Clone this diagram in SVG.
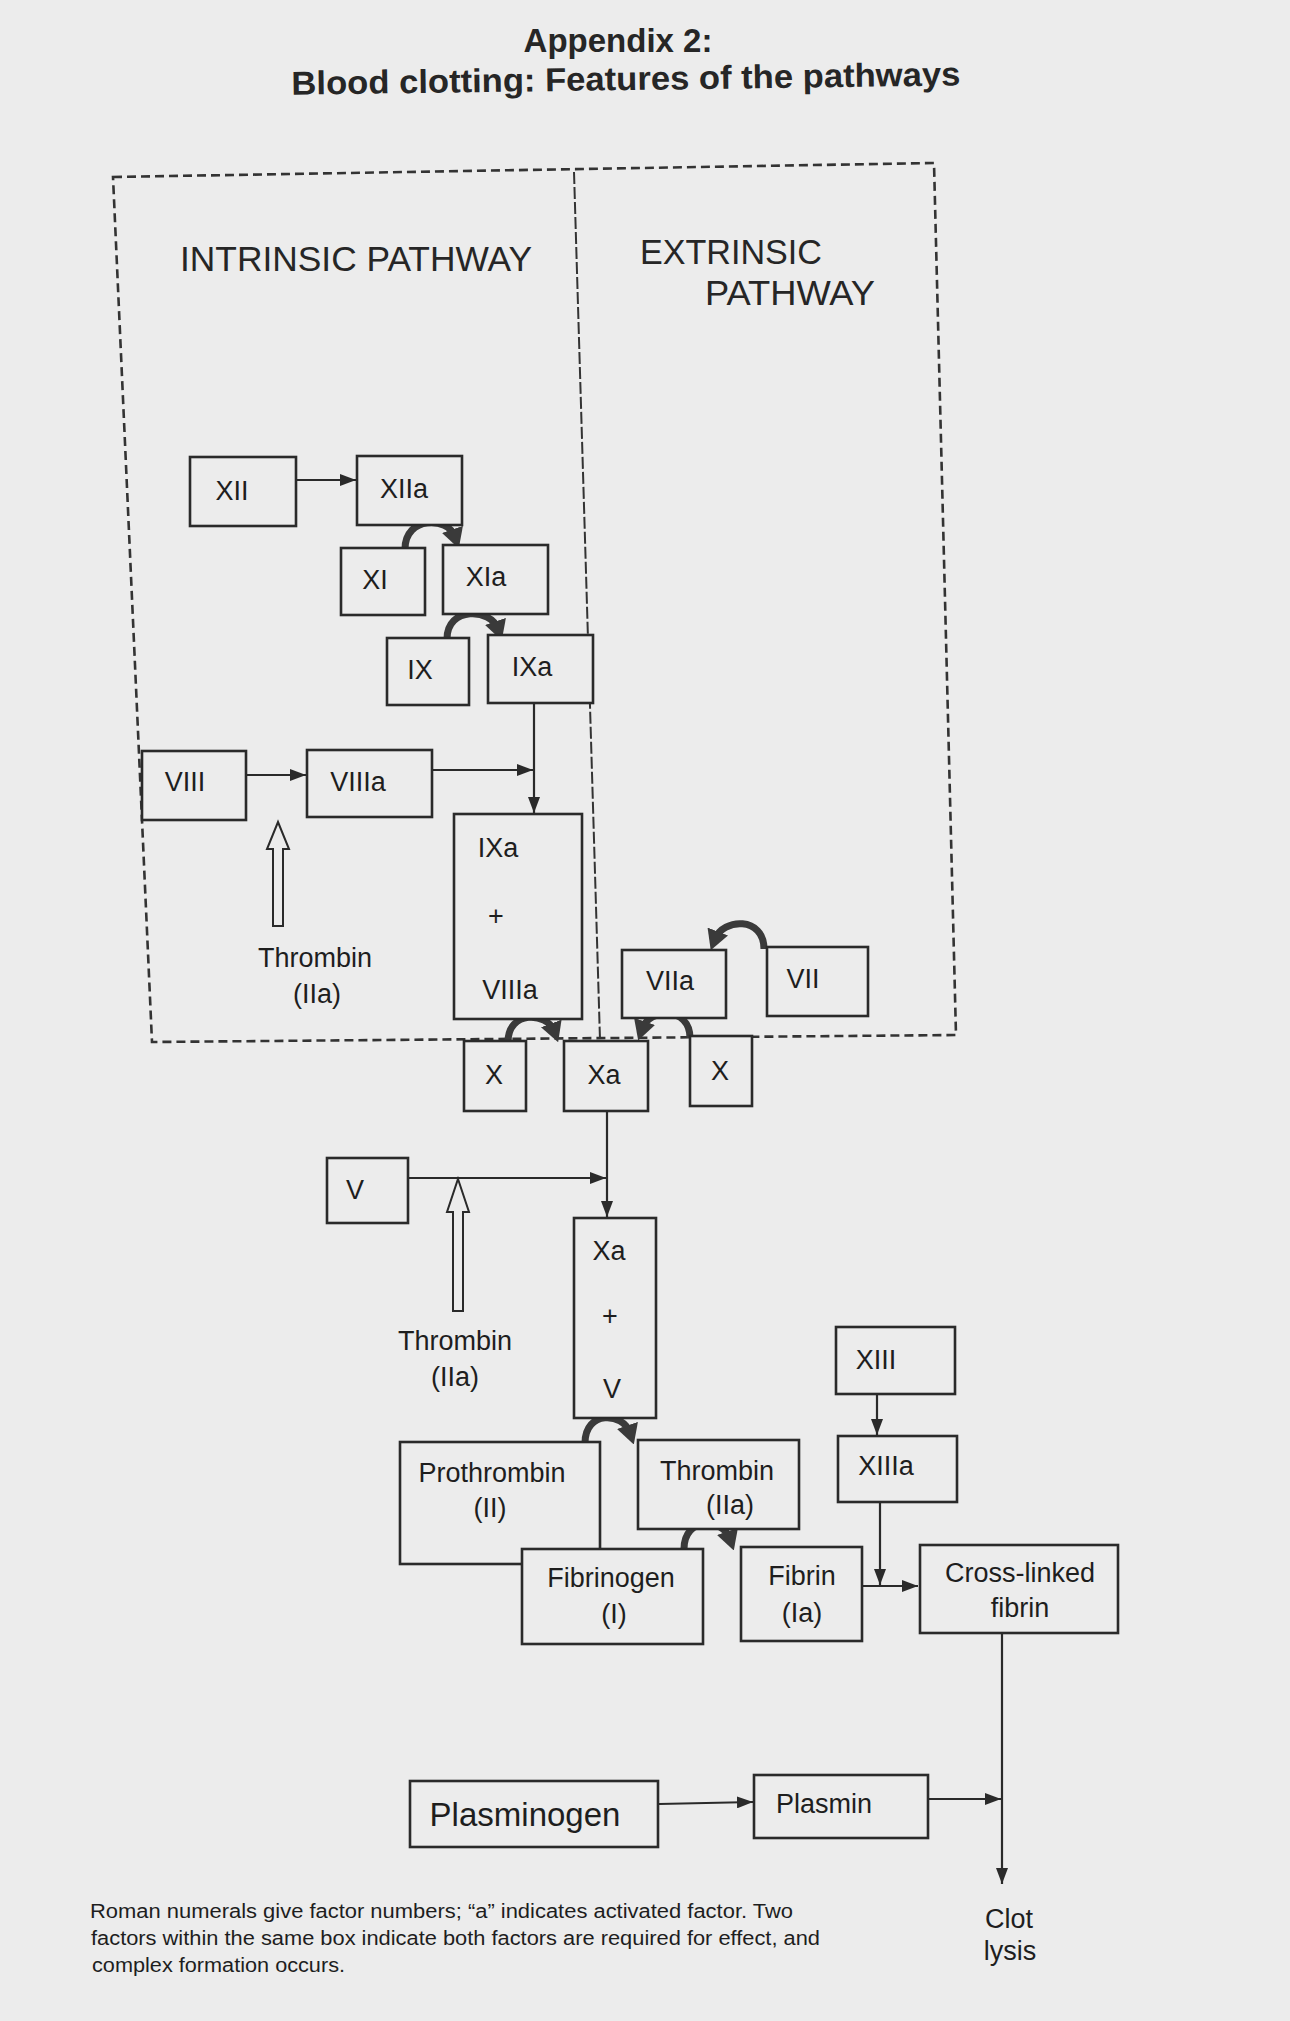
<svg xmlns="http://www.w3.org/2000/svg" width="1290" height="2021" viewBox="0 0 1290 2021">
<defs>
<style>
.bg{fill:#ececec}
.box{fill:#ececec;stroke:#2a2a2a;stroke-width:2.6}
.t{font-family:"Liberation Sans",Arial,sans-serif;font-size:27px;fill:#1e1e1e;text-anchor:middle}
.h{font-family:"Liberation Sans",Arial,sans-serif;font-size:35px;fill:#262626}
.ttl{font-family:"Liberation Sans",Arial,sans-serif;font-size:33px;font-weight:bold;fill:#262626;text-anchor:middle}
.fn{font-family:"Liberation Sans",Arial,sans-serif;font-size:20px;fill:#1e1e1e}
.ln{fill:none;stroke:#2a2a2a;stroke-width:2.2}
.cv{fill:none;stroke:#3a3a3a;stroke-width:7}
.hol{fill:#ececec;stroke:#2a2a2a;stroke-width:2}
.dash{fill:none;stroke:#333;stroke-width:2.6;stroke-dasharray:9 5}
.div{fill:none;stroke:#333;stroke-width:2;stroke-dasharray:12 3}
</style>
<marker id="ah" viewBox="0 0 16 12" refX="16" refY="6" markerWidth="16" markerHeight="12" markerUnits="userSpaceOnUse" orient="auto">
<path d="M0,0 L16,6 L0,12 z" fill="#2a2a2a"/>
</marker>
<marker id="ch" viewBox="0 0 20 22" refX="8" refY="11" markerWidth="20" markerHeight="22" markerUnits="userSpaceOnUse" orient="auto">
<path d="M0,0 L20,11 L0,22 z" fill="#3a3a3a"/>
</marker>
</defs>
<rect class="bg" x="0" y="0" width="1290" height="2021"/>

<g id="title">
<text class="ttl" x="618" y="52">Appendix 2:</text>
<text class="ttl" x="626" y="90" textLength="669" lengthAdjust="spacingAndGlyphs" transform="rotate(-0.8 626 90)">Blood clotting: Features of the pathways</text>
</g>

<g id="regions">
<path class="dash" d="M113,177 L934,163 L956,1035 L152,1042 Z"/>
<path class="div" d="M574,172 L600,1040"/>
<text class="h" x="180" y="271" textLength="352" lengthAdjust="spacingAndGlyphs">INTRINSIC PATHWAY</text>
<text class="h" x="640" y="264" textLength="182" lengthAdjust="spacingAndGlyphs">EXTRINSIC</text>
<text class="h" x="705" y="305" textLength="170" lengthAdjust="spacingAndGlyphs">PATHWAY</text>
</g>

<g id="connectors">
<path class="ln" d="M296,480 L356,480" marker-end="url(#ah)"/>
<path class="ln" d="M534,703 L534,813" marker-end="url(#ah)"/>
<path class="ln" d="M246,775 L306,775" marker-end="url(#ah)"/>
<path class="ln" d="M432,770 L533,770" marker-end="url(#ah)"/>
<path class="ln" d="M607,1111 L607,1217" marker-end="url(#ah)"/>
<path class="ln" d="M408,1178 L606,1178" marker-end="url(#ah)"/>
<path class="ln" d="M877,1394 L877,1435" marker-end="url(#ah)"/>
<path class="ln" d="M880,1503 L880,1585" marker-end="url(#ah)"/>
<path class="ln" d="M862,1586 L918,1586" marker-end="url(#ah)"/>
<path class="ln" d="M1002,1633 L1002,1884" marker-end="url(#ah)"/>
<path class="ln" d="M659,1804 L753,1802" marker-end="url(#ah)"/>
<path class="ln" d="M928,1799 L1001,1799" marker-end="url(#ah)"/>
<path class="cv" d="M405,549 C405,516 448,516 455,537" marker-end="url(#ch)"/>
<path class="cv" d="M447,639 C447,606 491,608 498,629" marker-end="url(#ch)"/>
<path class="cv" d="M764,949 C764,916 723,918 715,939" marker-end="url(#ch)"/>
<path class="cv" d="M508,1042 C508,1010 547,1012 554,1031" marker-end="url(#ch)"/>
<path class="cv" d="M690,1038 C690,1006 649,1008 642,1029" marker-end="url(#ch)"/>
<path class="cv" d="M585,1443 C585,1410 623,1412 630,1433" marker-end="url(#ch)"/>
<path class="cv" d="M684,1549 C684,1516 723,1518 730,1539" marker-end="url(#ch)"/>
<polygon class="hol" points="278,822 289,849 283,849 283,926 273,926 273,849 267,849"/>
<polygon class="hol" points="458,1179 469,1212 463,1212 463,1311 453,1311 453,1212 447,1212"/>
</g>

<g id="XII"><rect class="box" x="190" y="457" width="106" height="69"/><text class="t" x="232" y="500">XII</text></g>
<g id="XIIa"><rect class="box" x="357" y="456" width="105" height="69"/><text class="t" x="404" y="498">XIIa</text></g>
<g id="XI"><rect class="box" x="341" y="548" width="84" height="67"/><text class="t" x="375" y="589">XI</text></g>
<g id="XIa"><rect class="box" x="443" y="545" width="105" height="69"/><text class="t" x="486" y="586">XIa</text></g>
<g id="IX"><rect class="box" x="387" y="638" width="82" height="67"/><text class="t" x="420" y="679">IX</text></g>
<g id="IXa"><rect class="box" x="488" y="635" width="105" height="68"/><text class="t" x="532" y="676">IXa</text></g>
<g id="VIII"><rect class="box" x="142" y="751" width="104" height="69"/><text class="t" x="185" y="791">VIII</text></g>
<g id="VIIIa"><rect class="box" x="307" y="750" width="125" height="67"/><text class="t" x="358" y="791">VIIIa</text></g>
<g id="thrombin1"><text class="t" x="315" y="967">Thrombin</text><text class="t" x="317" y="1003">(IIa)</text></g>
<g id="IXa-VIIIa"><rect class="box" x="454" y="814" width="128" height="205"/><text class="t" x="498" y="857">IXa</text><text class="t" x="496" y="925">+</text><text class="t" x="510" y="999">VIIIa</text></g>
<g id="VIIa"><rect class="box" x="622" y="950" width="104" height="68"/><text class="t" x="670" y="990">VIIa</text></g>
<g id="VII"><rect class="box" x="767" y="947" width="101" height="69"/><text class="t" x="803" y="988">VII</text></g>
<g id="X1"><rect class="box" x="464" y="1041" width="62" height="70"/><text class="t" x="494" y="1084">X</text></g>
<g id="Xa"><rect class="box" x="564" y="1041" width="84" height="70"/><text class="t" x="604" y="1084">Xa</text></g>
<g id="X2"><rect class="box" x="690" y="1036" width="62" height="70"/><text class="t" x="720" y="1080">X</text></g>
<g id="V"><rect class="box" x="327" y="1158" width="81" height="65"/><text class="t" x="355" y="1199">V</text></g>
<g id="thrombin2"><text class="t" x="455" y="1350">Thrombin</text><text class="t" x="455" y="1386">(IIa)</text></g>
<g id="Xa-V"><rect class="box" x="574" y="1218" width="82" height="200"/><text class="t" x="609" y="1260">Xa</text><text class="t" x="610" y="1325">+</text><text class="t" x="612" y="1398">V</text></g>
<g id="prothrombin"><rect class="box" x="400" y="1442" width="200" height="122"/><text class="t" x="492" y="1482">Prothrombin</text><text class="t" x="490" y="1517">(II)</text></g>
<g id="thrombin"><rect class="box" x="638" y="1440" width="161" height="89"/><text class="t" x="717" y="1480">Thrombin</text><text class="t" x="730" y="1514">(IIa)</text></g>
<g id="fibrinogen"><rect class="box" x="522" y="1549" width="181" height="95"/><text class="t" x="611" y="1587">Fibrinogen</text><text class="t" x="614" y="1623">(I)</text></g>
<g id="fibrin"><rect class="box" x="741" y="1547" width="121" height="94"/><text class="t" x="802" y="1585">Fibrin</text><text class="t" x="802" y="1622">(Ia)</text></g>
<g id="XIII"><rect class="box" x="836" y="1327" width="119" height="67"/><text class="t" x="876" y="1369">XIII</text></g>
<g id="XIIIa"><rect class="box" x="838" y="1436" width="119" height="66"/><text class="t" x="886" y="1475">XIIIa</text></g>
<g id="crosslinked"><rect class="box" x="920" y="1545" width="198" height="88"/><text class="t" x="1020" y="1582">Cross-linked</text><text class="t" x="1020" y="1617">fibrin</text></g>
<g id="plasminogen"><rect class="box" x="410" y="1781" width="248" height="66"/><text class="t" x="525" y="1826" style="font-size:33px">Plasminogen</text></g>
<g id="plasmin"><rect class="box" x="754" y="1775" width="174" height="63"/><text class="t" x="824" y="1813">Plasmin</text></g>
<g id="clotlysis"><text class="t" x="1009" y="1928">Clot</text><text class="t" x="1010" y="1960">lysis</text></g>

<g id="footnote">
<text class="fn" x="90" y="1918" textLength="703" lengthAdjust="spacingAndGlyphs">Roman numerals give factor numbers; “a” indicates activated factor. Two</text>
<text class="fn" x="91" y="1945" textLength="729" lengthAdjust="spacingAndGlyphs">factors within the same box indicate both factors are required for effect, and</text>
<text class="fn" x="92" y="1972" textLength="253" lengthAdjust="spacingAndGlyphs">complex formation occurs.</text>
</g>
</svg>
